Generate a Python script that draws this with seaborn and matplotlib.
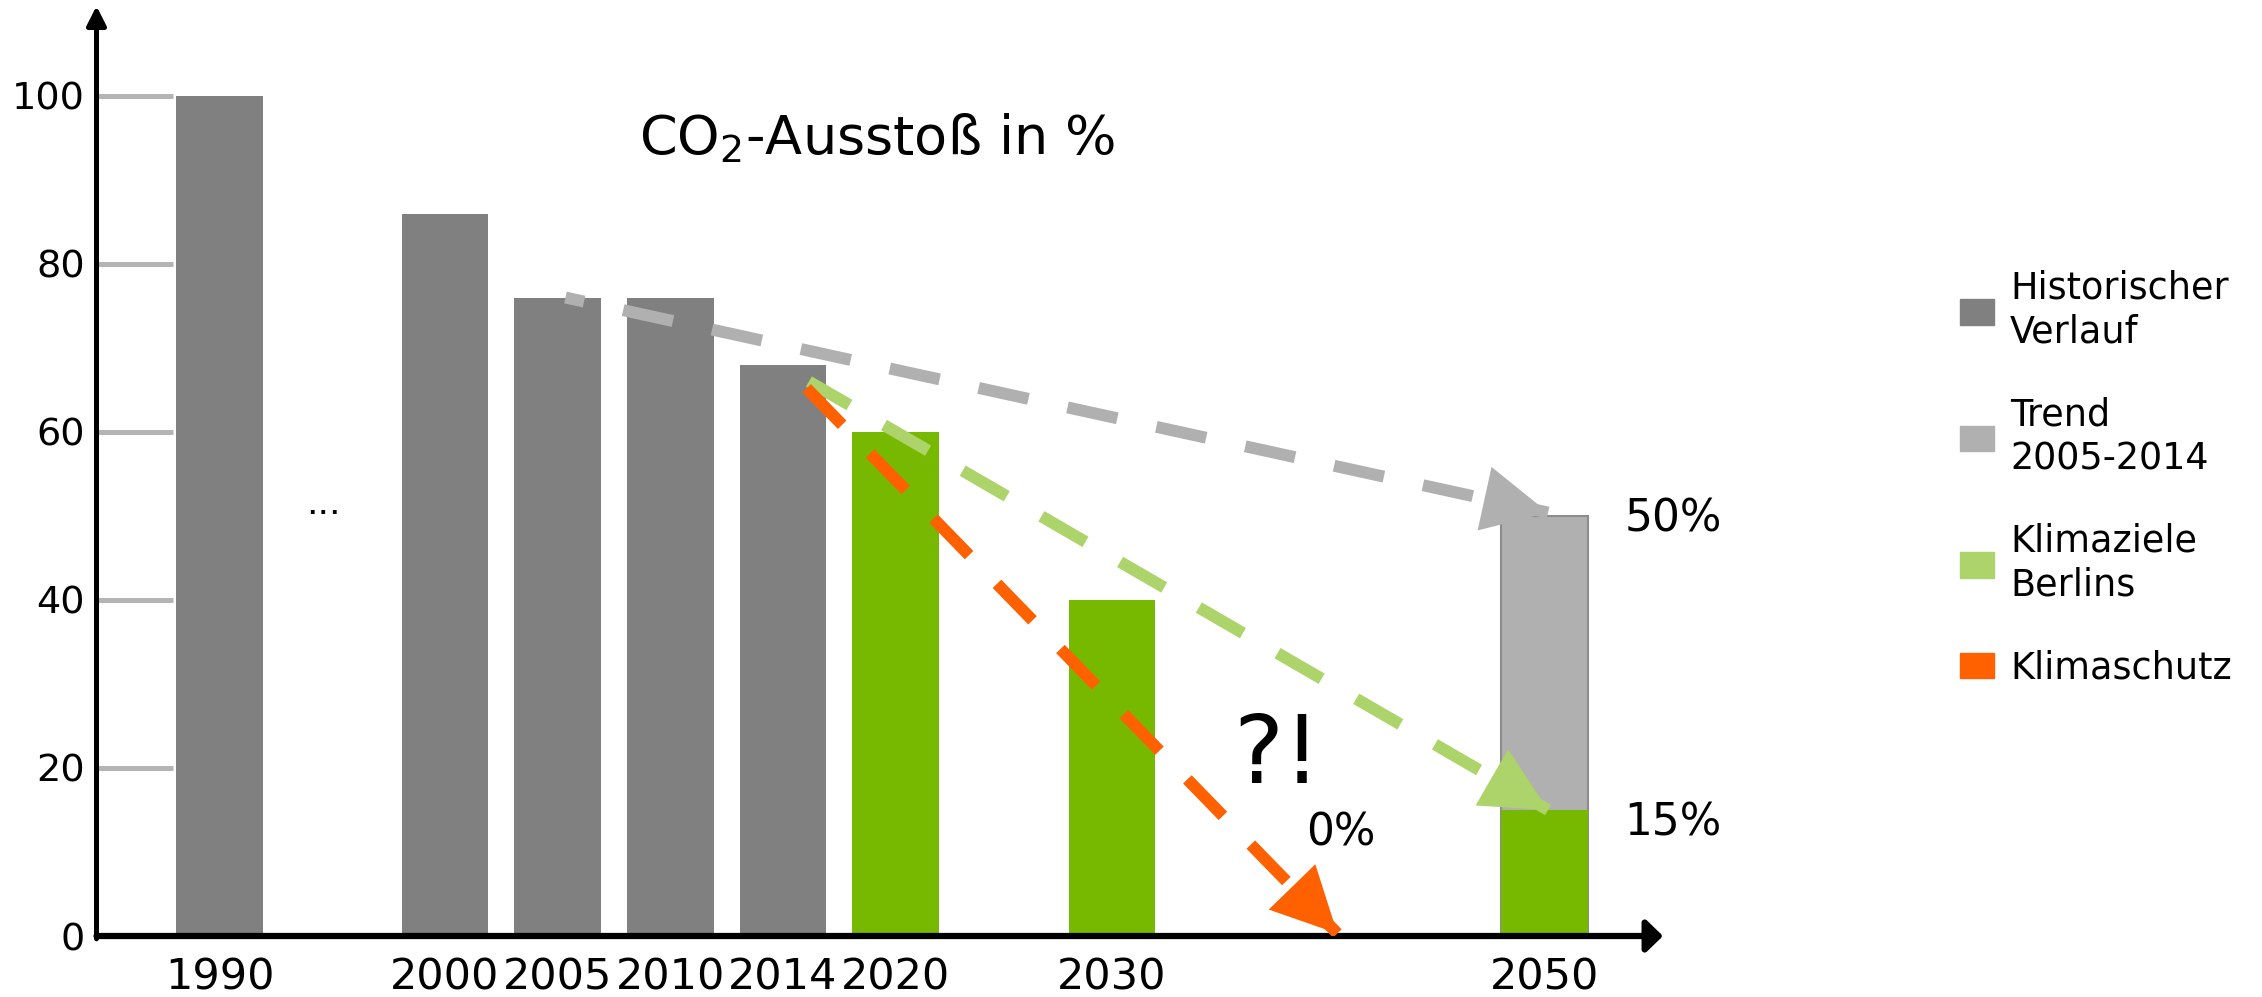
import pandas as pd
import matplotlib
matplotlib.use('Agg')
import matplotlib.pyplot as plt
from matplotlib.patches import Patch
import seaborn as sns

# Daten
jahre = ['1990', '2000', '2005', '2010', '2014', '2020', '2030', '2050']
werte = [100, 86, 76, 76, 68, 60, 40, 15]
reihe = ['hist', 'hist', 'hist', 'hist', 'hist', 'ziel', 'ziel', 'ziel']
trend_2050 = 50
ziel_2050 = 15
klimaschutz_ziel = 0
y_ticks = [0, 20, 40, 60, 80, 100]

legend_labels = ['Historischer\nVerlauf', 'Trend\n2005-2014', 'Klimaziele\nBerlins', 'Klimaschutz']

# Layout (Positionen der Balken auf der x-Achse)
slot = [0, 2, 3, 4, 5, 6, 7.92, 11.76]
slot_null = 9.92  # Spitze des Klimaschutz-Pfeils

c_hist = '#808080'
c_trend = '#b0b0b0'
c_ziel = '#77b800'
c_ziel_hell = '#acd46a'
c_schutz = '#ff6000'

sns.set_theme(style='white')
plt.rcParams['font.family'] = ['DejaVu Sans']
plt.rcParams['mathtext.fontset'] = 'dejavusans'
plt.rcParams['lines.scale_dashes'] = False
plt.rcParams['text.color'] = 'black'
plt.rcParams['xtick.color'] = 'black'
plt.rcParams['ytick.color'] = 'black'

df = pd.DataFrame({'pos': slot, 'wert': werte, 'reihe': reihe, 'jahr': jahre})

fig = plt.figure(figsize=(22.62, 9.97), dpi=100)
ax = fig.add_axes([0.04266, 0.06118, 0.69254, 0.9328])

# Trend-Balken 2050 (hinter dem gruenen Zielbalken)
ax.bar(slot[-1], trend_2050, width=0.768, color=c_trend, edgecolor='#8c8c8c', linewidth=1.5, zorder=1)

sns.barplot(data=df, x='pos', y='wert', hue='reihe', palette={'hist': c_hist, 'ziel': c_ziel},
            native_scale=True, width=0.768, saturation=1, dodge=False, legend=False,
            errorbar=None, linewidth=0, ax=ax)

ax.set_xlim(-1.092, 12.81)
ax.set_ylim(0, 110.7)
ax.set_xlabel('')
ax.set_ylabel('')
ax.set_xticks(slot, jahre)
ax.set_yticks(y_ticks)
ax.tick_params(axis='x', bottom=True, length=0, pad=15, labelsize=31, labelcolor='black')
ax.tick_params(axis='y', left=True, direction='in', length=55.4, width=3.6, color='#b4b4b4',
               pad=8.6, labelsize=27.5, labelcolor='black')
for s in ax.spines.values():
    s.set_visible(False)

# Achsen mit Pfeilspitzen
ax.annotate('', xy=(0, 1), xytext=(0, -0.003), xycoords='axes fraction',
            arrowprops=dict(arrowstyle='-|>,head_length=11.5,head_width=5.8', mutation_scale=1,
                            lw=3.6, color='black', shrinkA=0, shrinkB=0), annotation_clip=False)
ax.annotate('', xy=(1, 0), xytext=(0, 0), xycoords='axes fraction',
            arrowprops=dict(arrowstyle='-|>,head_length=10,head_width=9.7', mutation_scale=1,
                            lw=4.5, color='black', shrinkA=0, shrinkB=0), annotation_clip=False)

# Gestrichelte Pfeile
def pfeil(x0, y0, x1, y1, farbe, offset, z):
    ax.plot([x0, x1], [y0, y1], color=farbe, lw=8.6, linestyle=(offset, (36.7, 28.8)),
            solid_capstyle='butt', dash_capstyle='butt', zorder=z)
    ax.annotate('', xy=(x1, y1), xytext=(x0, y0),
                arrowprops=dict(arrowstyle='-|>,head_length=46.8,head_width=23.4', mutation_scale=1,
                                lw=0, color=farbe, shrinkA=0, shrinkB=0), zorder=z + 0.5)

pfeil(slot[2] + 0.07, werte[2], slot[-1] + 0.03, trend_2050 + 0.4, c_trend, 23, 3)
pfeil(slot[4] + 0.23, 66, slot[-1] + 0.03, ziel_2050, c_ziel_hell, 3, 3.2)
pfeil(slot[4] + 0.21, 65.2, slot_null, klimaschutz_ziel + 0.3, c_schutz, 0, 3.4)

# Texte
ax.text(5.84, 93.1, r'CO$_2$-Ausstoß in %', ha='center', va='baseline', fontsize=39)
ax.text(0.92, 50.2, '...', ha='center', va='baseline', fontsize=26)
ax.text(9.39, 18.2, '?!', ha='center', va='baseline', fontsize=68)
ax.text(9.64, 10.8, '0%', ha='left', va='baseline', fontsize=31.5)
ax.text(12.47, 48.1, f'{trend_2050}%', ha='left', va='baseline', fontsize=31.5, clip_on=False)
ax.text(12.47, 12.0, f'{ziel_2050}%', ha='left', va='baseline', fontsize=31.5, clip_on=False)

# Legende
handles = [Patch(color=c) for c in [c_hist, c_trend, c_ziel_hell, c_schutz]]
leg = fig.legend(handles, legend_labels, loc='center left', bbox_to_anchor=(0.8665, 0.5206),
                 frameon=False, fontsize=26.3, handlelength=0.93, handleheight=0.69,
                 handletextpad=0.44, labelspacing=1.24, borderpad=0, borderaxespad=0)
for t in leg.get_texts():
    t.set_linespacing(1.25)
    t.set_color('black')

fig.savefig('out.png', dpi=100)
